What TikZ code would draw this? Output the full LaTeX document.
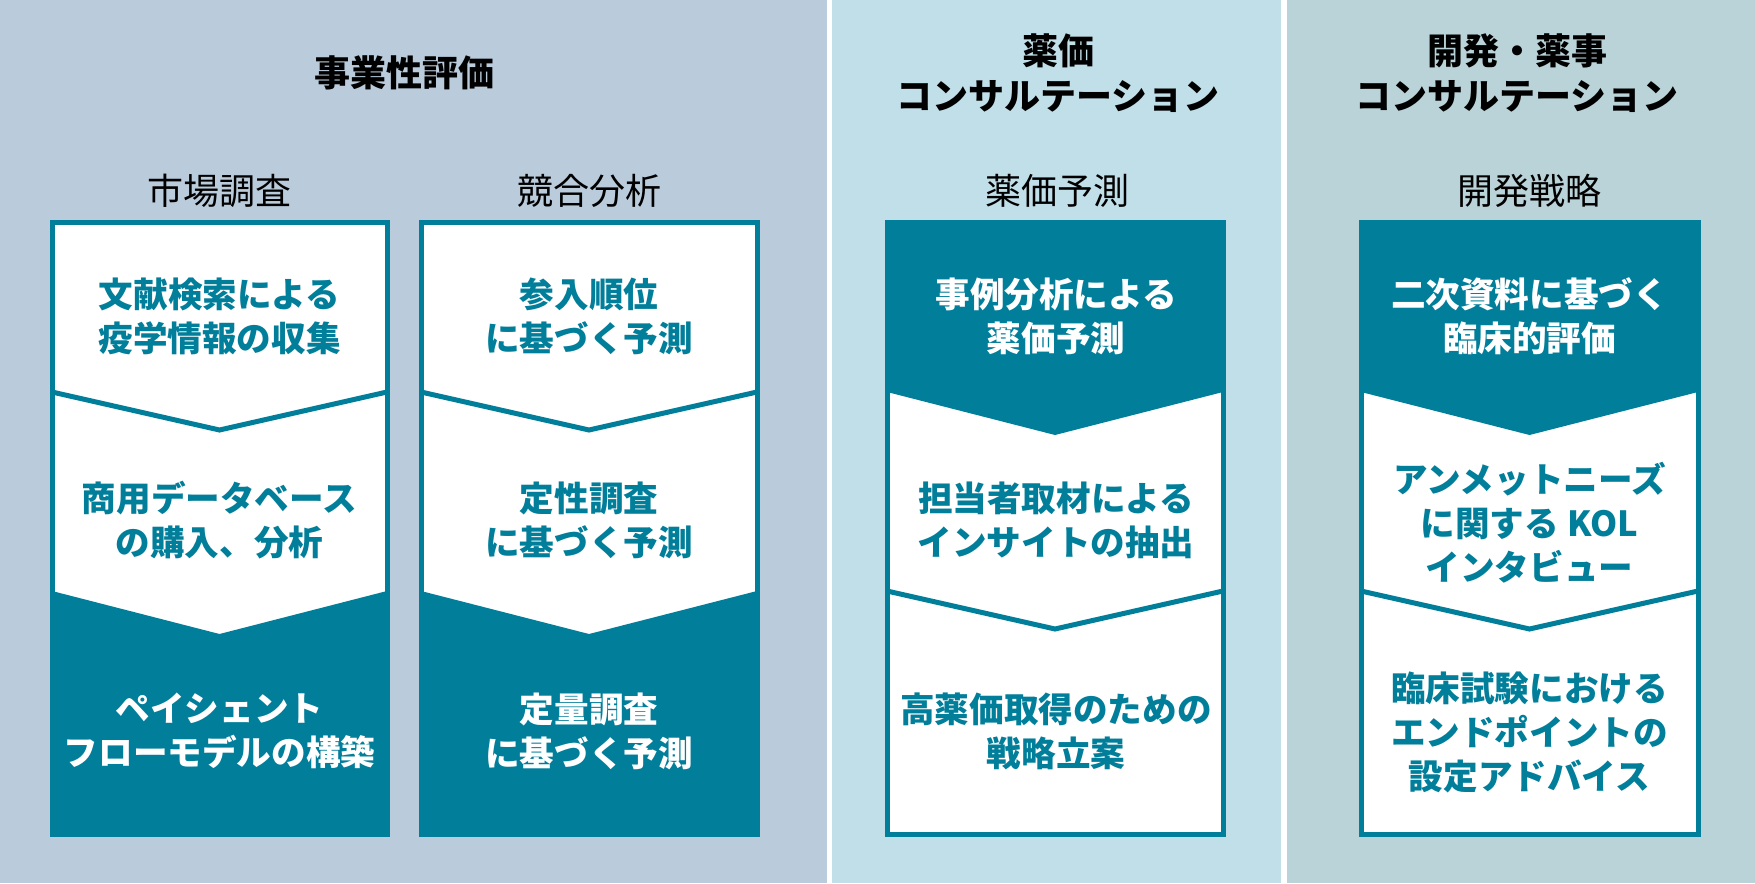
\documentclass[tikz,border=0pt]{standalone}
\usepackage{fontspec}
\setmainfont{Noto Sans CJK JP}
\usetikzlibrary{calc,positioning}
\definecolor{bizgrey}{RGB}{186,204,220}
\definecolor{priceblue}{RGB}{193,223,233}
\definecolor{devgreen}{RGB}{185,211,216}
\definecolor{stepteal}{RGB}{0,126,154}
% levels of the chevrons (in px of the sheet)
\pgfmathsetmacro{\chevone}{392}
\pgfmathsetmacro{\chevtwo}{591}
\pgfmathsetmacro{\filldepth}{43}
\pgfmathsetmacro{\linedepth}{38}
\tikzset{
  boxframe/.style={draw=stepteal, line width=2.5pt},
  chevline/.style={draw=stepteal, line width=2.5pt},
  headtext/.style={font=\fontsize{18pt}{22.5pt}\selectfont\bfseries, align=center},
  subhead/.style={font=\fontsize{18pt}{22pt}\selectfont},
  steptext/.style={font=\fontsize{17.3pt}{22pt}\selectfont\bfseries, align=center, text=stepteal},
  steptextinv/.style={steptext, text=white},
}

\begin{document}
\begin{tikzpicture}[x=0.5pt, y=-0.5pt]
    \useasboundingbox (0,0) rectangle (1755,883);
    % background panels
    \fill[bizgrey] (0,0) rectangle (827,883);
    \fill[white] (827,0) rectangle (832,883);
    \fill[priceblue] (832,0) rectangle (1281,883);
    \fill[white] (1281,0) rectangle (1287,883);
    \fill[devgreen] (1287,0) rectangle (1755,883);
    % define corners
    % market
    \coordinate (mkt_nw) at (52,222);
    \coordinate (mkt_se) at (387,834);
    % competition
    \coordinate (comp_nw) at (421,222);
    \coordinate (comp_se) at (757,834);
    % price
    \coordinate (price_nw) at (887,222);
    \coordinate (price_se) at (1223,834);
    % development
    \coordinate (dev_nw) at (1361,222);
    \coordinate (dev_se) at (1698,834);
    % draw boxes
    \fill[white] (mkt_nw) rectangle (mkt_se);
    \fill[stepteal] (52,\chevtwo) -- (219.5,\chevtwo+\filldepth) -- (387,\chevtwo) -- (mkt_se) -- (52,834) -- cycle;
    \draw[chevline] (52,\chevone) -- (219.5,\chevone+\linedepth) -- (387,\chevone);
    \draw[boxframe] (mkt_nw) rectangle (mkt_se);
    \fill[white] (comp_nw) rectangle (comp_se);
    \fill[stepteal] (421,\chevtwo) -- (589,\chevtwo+\filldepth) -- (757,\chevtwo) -- (comp_se) -- (421,834) -- cycle;
    \draw[chevline] (421,\chevone) -- (589,\chevone+\linedepth) -- (757,\chevone);
    \draw[boxframe] (comp_nw) rectangle (comp_se);
    \fill[white] (price_nw) rectangle (price_se);
    \fill[stepteal] (price_nw) -- (1223,222) -- (1223,\chevone) -- (1055,\chevone+\filldepth) -- (887,\chevone) -- cycle;
    \draw[chevline] (887,\chevtwo) -- (1055,\chevtwo+\linedepth) -- (1223,\chevtwo);
    \draw[boxframe] (price_nw) rectangle (price_se);
    \fill[white] (dev_nw) rectangle (dev_se);
    \fill[stepteal] (dev_nw) -- (1698,222) -- (1698,\chevone) -- (1529.5,\chevone+\filldepth) -- (1361,\chevone) -- cycle;
    \draw[chevline] (1361,\chevtwo) -- (1529.5,\chevtwo+\linedepth) -- (1698,\chevtwo);
    \draw[boxframe] (dev_nw) rectangle (dev_se);
    % add headings
    \node[headtext] (biz_head) at (404.5,73) {事業性評価};
    \node[headtext] (price_head) at (1058,73) {薬価\\コンサルテーション};
    \node[headtext] (dev_head) at (1517,73) {開発・薬事\\コンサルテーション};
    \node[subhead] (mkt_head) at (219.5,191) {市場調査};
    \node[subhead] (comp_head) at (589,191) {競合分析};
    \node[subhead] (price_sub) at (1057,191) {薬価予測};
    \node[subhead] (dev_sub) at (1529.5,191) {開発戦略};
    % add step labels
    \node[steptext] (mkt_a) at (219.5,316) {文献検索による\\疫学情報の収集};
    \node[steptext] (mkt_b) at (219.5,520) {商用データベース\\の購入、分析};
    \node[steptextinv] (mkt_c) at (219.5,731) {ペイシェント\\フローモデルの構築};
    \node[steptext] (comp_a) at (589,316) {参入順位\\に基づく予測};
    \node[steptext] (comp_b) at (589,520) {定性調査\\に基づく予測};
    \node[steptextinv] (comp_c) at (589,731) {定量調査\\に基づく予測};
    \node[steptextinv] (price_a) at (1056,316) {事例分析による\\薬価予測};
    \node[steptext] (price_b) at (1056,520) {担当者取材による\\インサイトの抽出};
    \node[steptext] (price_c) at (1056,731) {高薬価取得のための\\戦略立案};
    \node[steptextinv] (dev_a) at (1529.5,316) {二次資料に基づく\\臨床的評価};
    \node[steptext] (dev_b) at (1529.5,523) {アンメットニーズ\\に関する KOL\\インタビュー};
    \node[steptext] (dev_c) at (1529.5,732) {臨床試験における\\エンドポイントの\\設定アドバイス};
\end{tikzpicture}
\end{document}
